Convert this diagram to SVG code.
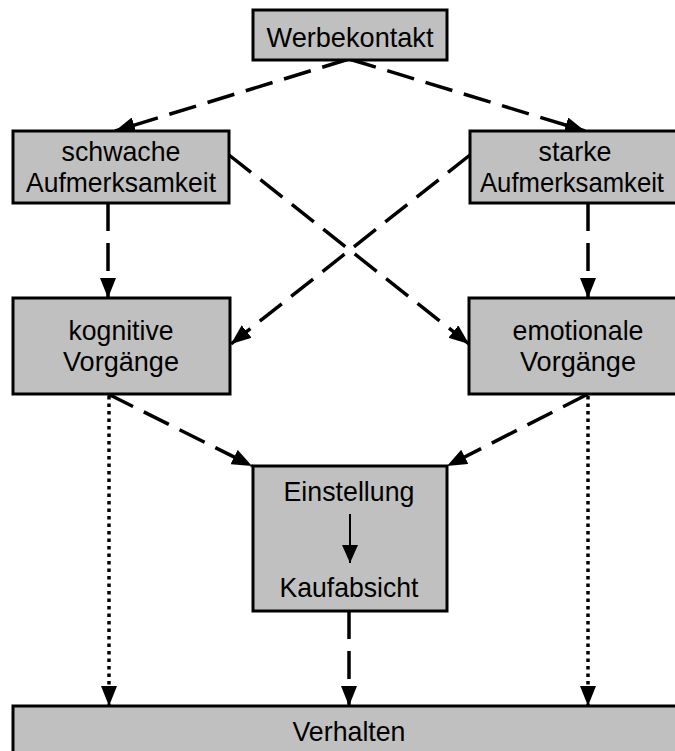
<svg xmlns="http://www.w3.org/2000/svg" width="675" height="751" viewBox="0 0 675 751">
<style>
.box{fill:#c0c0c0;stroke:#000;stroke-width:3}
.t{font-family:"Liberation Sans",Arial,sans-serif;font-size:28px;fill:#000;text-anchor:middle}
.dash{fill:none;stroke:#000;stroke-width:3.5;stroke-dasharray:28 12;marker-end:url(#ah)}
.dot{fill:none;stroke:#000;stroke-width:3.5;stroke-dasharray:3.5 4;marker-end:url(#ah)}
.solid{fill:none;stroke:#000;stroke-width:2;marker-end:url(#ahs)}
</style>
<defs>
<marker id="ah" markerUnits="userSpaceOnUse" markerWidth="20" markerHeight="16" refX="20" refY="8" orient="auto" viewBox="0 0 20 16">
<path d="M0,0 L20,8 L0,16 z" fill="#000"/>
</marker>
<marker id="ahs" markerUnits="userSpaceOnUse" markerWidth="18" markerHeight="16" refX="18" refY="8" orient="auto" viewBox="0 0 18 16">
<path d="M0,0 L18,8 L0,16 z" fill="#000"/>
</marker>
</defs>
<rect width="675" height="751" fill="#fff"/>
<g id="connectors">
<path class="dash" d="M349,59 L115,131"/>
<path class="dash" d="M349,59 L585,131"/>
<path class="dash" d="M108,203 L108,298"/>
<path class="dash" d="M588,203 L588,298"/>
<path class="dash" d="M229,155 L469,344"/>
<path class="dash" d="M470,155 L231,344"/>
<path class="dash" d="M108,394 L252,466"/>
<path class="dash" d="M588,394 L447,466"/>
<path class="dot" d="M109,396 L109,706"/>
<path class="dot" d="M588,396 L588,706"/>
<path class="dash" d="M349,611 L349,706"/>
</g>
<g id="werbekontakt">
<rect class="box" x="253" y="10" width="194" height="50"/>
<text class="t" x="350" y="47" textLength="167" lengthAdjust="spacingAndGlyphs">Werbekontakt</text>
</g>
<g id="schwache">
<rect class="box" x="13" y="131" width="216" height="72"/>
<text class="t" x="121" y="161" textLength="119" lengthAdjust="spacingAndGlyphs">schwache</text>
<text class="t" x="121" y="192" textLength="190" lengthAdjust="spacingAndGlyphs">Aufmerksamkeit</text>
</g>
<g id="starke">
<rect class="box" x="470" y="131" width="220" height="72"/>
<text class="t" x="575" y="161" textLength="73" lengthAdjust="spacingAndGlyphs">starke</text>
<text class="t" x="572" y="192" font-size="26" textLength="184" lengthAdjust="spacingAndGlyphs">Aufmerksamkeit</text>
</g>
<g id="kognitive">
<rect class="box" x="13" y="298" width="217" height="96"/>
<text class="t" x="121" y="340" textLength="105" lengthAdjust="spacingAndGlyphs">kognitive</text>
<text class="t" x="121" y="371" textLength="116" lengthAdjust="spacingAndGlyphs">Vorgänge</text>
</g>
<g id="emotionale">
<rect class="box" x="469" y="298" width="221" height="96"/>
<text class="t" x="578" y="340" textLength="131" lengthAdjust="spacingAndGlyphs">emotionale</text>
<text class="t" x="578" y="371" textLength="116" lengthAdjust="spacingAndGlyphs">Vorgänge</text>
</g>
<g id="einstellung">
<rect class="box" x="253" y="466" width="194" height="145"/>
<text class="t" x="349" y="501" textLength="131" lengthAdjust="spacingAndGlyphs">Einstellung</text>
<path class="solid" d="M350,514 L350,563"/>
<text class="t" x="349" y="597" textLength="139" lengthAdjust="spacingAndGlyphs">Kaufabsicht</text>
</g>
<g id="verhalten">
<rect class="box" x="13" y="706" width="680" height="60"/>
<text class="t" x="349" y="741" textLength="113" lengthAdjust="spacingAndGlyphs">Verhalten</text>
</g>
</svg>
